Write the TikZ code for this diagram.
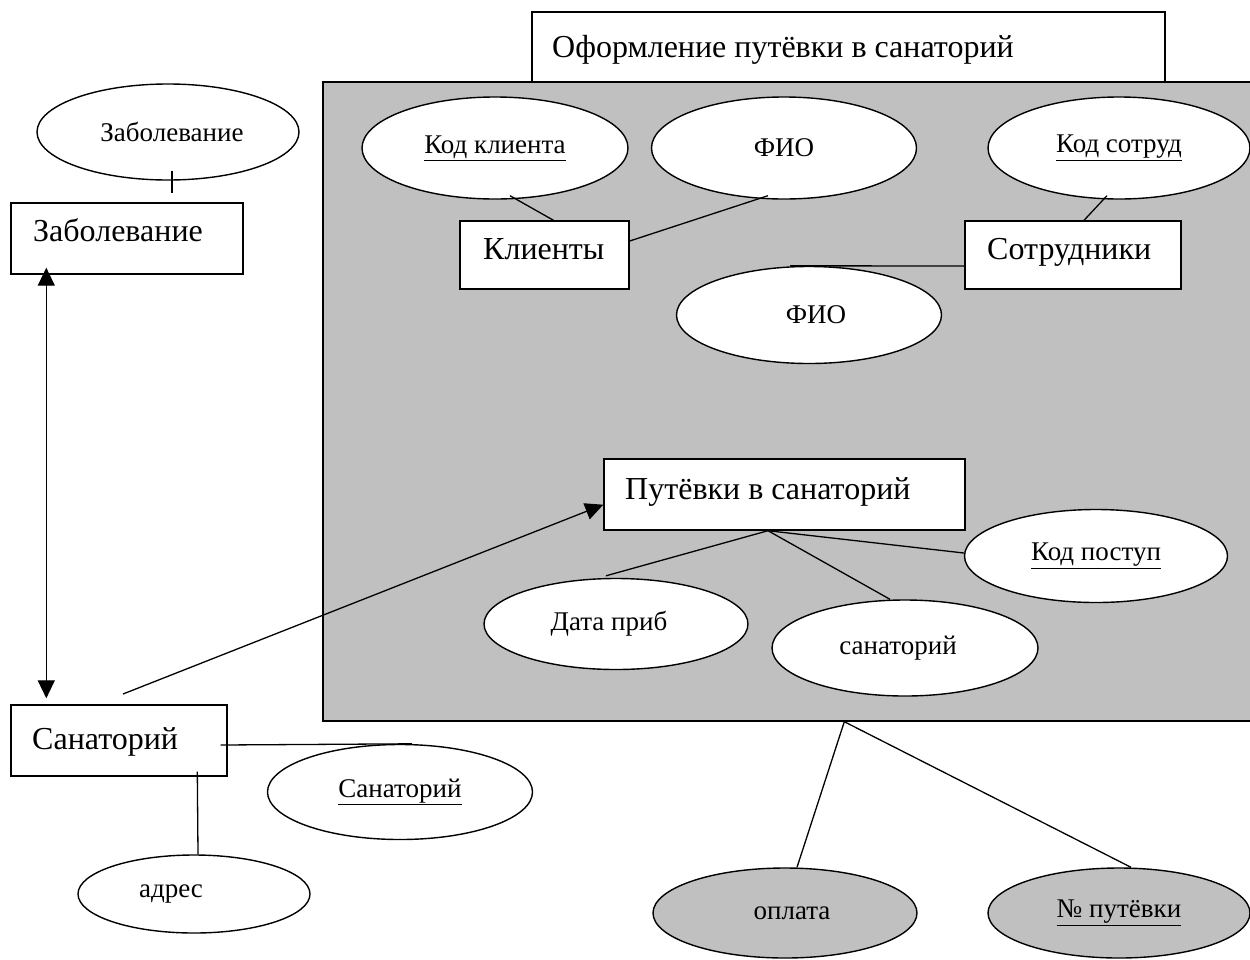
\documentclass[tikz,border=0pt]{standalone}
\usepackage{fontspec}
\setmainfont{Liberation Serif}
\usetikzlibrary{shapes.geometric,arrows.meta,calc}
\definecolor{grp}{HTML}{C0C0C0}
\tikzset{
  lw/.style={line width=1.4pt},
  attr/.style={ellipse,draw,lw,fill=white,inner sep=0pt,font=\fontsize{27}{30}\selectfont},
  gattr/.style={attr,fill=grp},
  ebox/.style={rectangle,draw,lw,fill=white,inner sep=0pt},
  btext/.style={anchor=base west,inner sep=0pt,font=\fontsize{32}{36}\selectfont},
  conn/.style={line width=1.3pt},
  tip/.style={-{Triangle[length=18pt,width=17pt]}},
  dtip/.style={{Triangle[length=18pt,width=17pt]}-{Triangle[length=18pt,width=17pt]}},
}
\begin{document}
\begin{tikzpicture}[x=1pt,y=-1pt]
\useasboundingbox[fill=white] (0,0) rectangle (1250,959);
% group area
\node[rectangle,draw,lw,fill=grp,minimum width=937,minimum height=639,inner sep=0pt] (grp) at (791.5,401.5) {};
\node[ebox,minimum width=633,minimum height=70] (title) at (848.5,47) {};
\node[btext] (titlet) at (552,57) {Оформление путёвки в санаторий};
% left side
\node[attr,minimum width=262,minimum height=96] (zabE) at (168,132) {\hspace*{8pt}Заболевание};
\node[ebox,minimum width=232,minimum height=71] (zab) at (127,238.5) {};
\node[btext] (zabt) at (33,241) {Заболевание};
\node[ebox,minimum width=216,minimum height=71] (san) at (119,740.5) {};
\node[btext] (sant) at (32,749) {Санаторий};
\node[attr,minimum width=265,minimum height=95] (sanE) at (400,792) {\underline{Санаторий}};
\node[attr,minimum width=232,minimum height=78] (adr) at (194,894) {};
\node[anchor=center,inner sep=0pt,font=\fontsize{27}{30}\selectfont] (adrt) at (171,894) {адрес};
% inside group
\node[attr,minimum width=266,minimum height=102] (kk) at (495,148) {\underline{Код клиента}};
\node[attr,minimum width=265,minimum height=102] (fio) at (784,148) {ФИО};
\node[attr,minimum width=262,minimum height=102] (ks) at (1119,148) {\underline{Код сотруд}};
\node[ebox,minimum width=169,minimum height=68] (kl) at (544.5,255) {};
\node[btext] (klt) at (483,259) {Клиенты};
\node[ebox,minimum width=216,minimum height=68] (sotr) at (1073,255) {};
\node[btext] (sotrt) at (987,259) {Сотрудники};
\node[attr,minimum width=265,minimum height=97] (fio2) at (809,315) {\hspace*{14pt}ФИО};
\node[ebox,minimum width=361,minimum height=71] (put) at (784.5,494.5) {};
\node[btext] (putt) at (625,499) {Путёвки в санаторий};
\node[attr,minimum width=263,minimum height=93] (kp) at (1096,556) {\underline{Код поступ}};
\node[attr,minimum width=264,minimum height=91] (data) at (616,624) {Дата приб\hspace*{14pt}};
\node[attr,minimum width=266,minimum height=96] (sanA) at (905,648) {санаторий\hspace*{14pt}};
\node[gattr,minimum width=264,minimum height=90] (opl) at (785,913) {\hspace*{14pt}оплата};
\node[gattr,minimum width=262,minimum height=90] (np) at (1119,913) {\underline{№ путёвки}};
% free ends
\coordinate (a1) at (123,694);
\coordinate (bp) at ($(grp.south west)+(522,0)$);
% connectors
\draw[conn] ($(zabE.south)+(4,-10)$) -- ($(zabE.south)+(4,12)$);
\draw[conn,dtip] ($(zab.south west)+(36,-7)$) -- ($(san.north west)+(36,-6)$);
\draw[conn,tip] (a1) -- ($(put.south west)+(0,-26)$);
\draw[conn] ($(san.east)+(-7,4.5)$) -- ($(sanE.north)+(12,0)$);
\draw[conn] ($(san.south west)+(187,-5)$) -- ($(adr.north)+(4,0)$);
\draw[conn] ($(kk.south)+(15,-4)$) -- ($(kl.north)+(9,0)$);
\draw[conn] ($(fio.south)+(-16,-4)$) -- ($(kl.east)+(0,-14)$);
\draw[conn] ($(ks.south)+(-12,-4)$) -- ($(sotr.north)+(11,0)$);
\draw[conn] ($(fio2.north)+(-19,0)$) -- ($(sotr.west)+(0,11)$);
\draw[conn] ($(put.south)+(-16.5,0)$) -- ($(data.north)+(-10,-2)$);
\draw[conn] ($(put.south)+(-16.5,0)$) -- ($(sanA.north)+(-15,0)$);
\draw[conn] ($(put.south)+(-16.5,0)$) -- ($(kp.west)+(0,-3)$);
\draw[conn] (bp) -- ($(opl.north)+(12,0)$);
\draw[conn] (bp) -- ($(np.north)+(12,0)$);
\end{tikzpicture}
\end{document}
